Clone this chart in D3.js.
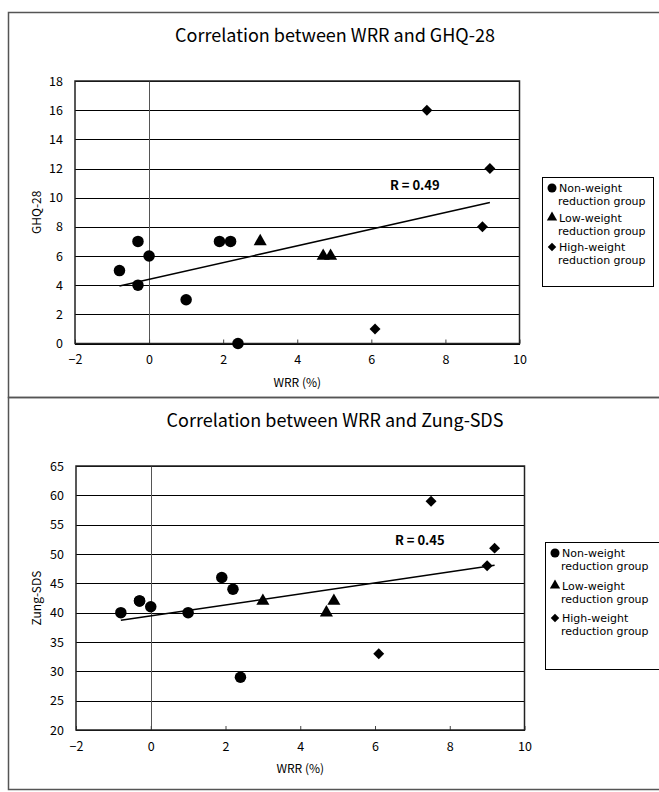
<!DOCTYPE html>
<meta charset="utf-8">
<script src="https://d3js.org/d3.v7.min.js"></script>
<style>
body { margin: 0; background: #fff; }
svg { font-family: "Noto Sans CJK JP", "DejaVu Sans", sans-serif; }
.grid line { stroke: #000; stroke-width: 1; shape-rendering: crispEdges; }
.legend text { font-family: "DejaVu Sans", sans-serif; font-size: 11px; }
</style>
<body>
<script>
// values (WRR in %, scores per subject)
var nonWRR = [-0.8, -0.3, -0.3, 0, 1, 1.9, 2.2, 2.4];
var nonGHQ = [5, 7, 4, 6, 3, 7, 7, 0];
var nonSDS = [40, 42, 42, 41, 40, 46, 44, 29];
var lowWRR = [3, 4.7, 4.9];
var lowGHQ = [7, 6, 6];
var lowSDS = [42, 40, 42];
var highWRR = [6.1, 7.5, 9, 9.2];
var highGHQ = [1, 16, 8, 12];
var highSDS = [33, 59, 48, 51];

var xTicks = [-2, 0, 2, 4, 6, 8, 10];
var ghqTicks = [0, 2, 4, 6, 8, 10, 12, 14, 16, 18];
var sdsTicks = [20, 25, 30, 35, 40, 45, 50, 55, 60, 65];
var groupNames = ["Non-weight", "Low-weight", "High-weight"];
var symbols = ["circle", "triangle", "diamond"];

var W = 659, H = 792;
var svg = d3.select("body").append("svg")
    .attr("width", W)
    .attr("height", H);

function markerPath(kind, big) {
    if (kind == "circle") return d3.symbol(d3.symbolCircle, big ? 104 : 64)();
    if (kind == "triangle") return d3.symbol(d3.symbolTriangle, big ? 74 : 46)();
    return d3.symbol(d3.symbolSquare, big ? 60 : 36)();
}

function drawChart(opt) {
    var g = svg.append("g");
    // outer panel frame
    g.append("rect")
        .attr("x", 8.5).attr("y", opt.top + 0.5)
        .attr("width", 700).attr("height", opt.panelH)
        .attr("fill", "none").attr("stroke", "#555").attr("stroke-width", 1.5);

    g.append("text")
        .attr("x", 335).attr("y", opt.top + 30)
        .attr("text-anchor", "middle")
        .attr("font-size", "18px")
        .text(opt.title);

    var x = d3.scaleLinear().domain([-2, 10]).range([opt.left, opt.right]);
    var y = d3.scaleLinear().domain(d3.extent(opt.yTicks)).range([opt.bottom, opt.plotTop]);

    // horizontal gridlines
    g.append("g").attr("class", "grid")
        .attr("transform", "translate(" + opt.left + ",0)")
        .call(d3.axisLeft(y).tickValues(opt.yTicks).tickSize(-(opt.right - opt.left)).tickFormat(""))
        .select(".domain").remove();

    // y tick labels
    g.append("g")
        .attr("transform", "translate(" + (opt.left - 9) + ",0)")
        .call(d3.axisLeft(y).tickValues(opt.yTicks).tickSize(0))
        .call(function(s) { s.select(".domain").remove(); })
        .selectAll("text")
        .attr("font-size", "12.5px")
        .attr("font-family", "\"Noto Sans CJK JP\", sans-serif")
        .attr("fill", "#000");

    // zero line
    g.append("line")
        .attr("x1", Math.round(x(0)) + 0.5).attr("x2", Math.round(x(0)) + 0.5)
        .attr("y1", opt.plotTop).attr("y2", opt.bottom)
        .attr("stroke", "#555").attr("stroke-width", 1);

    // x axis with inward ticks
    var xa = g.append("g")
        .attr("transform", "translate(0," + opt.bottom + ")")
        .call(d3.axisBottom(x).tickValues(xTicks).tickSizeInner(-4).tickSizeOuter(0).tickPadding(12)
            .tickFormat(function(d) { return d < 0 ? "\u2212" + (-d) : d; }));
    xa.select(".domain").remove();
    xa.selectAll("line").attr("stroke", "#444");
    xa.selectAll("text").attr("font-size", "12.5px")
        .attr("font-family", "\"Noto Sans CJK JP\", sans-serif").attr("fill", "#000");

    // plot frame
    g.append("rect")
        .attr("x", opt.left).attr("y", opt.plotTop)
        .attr("width", opt.right - opt.left).attr("height", opt.bottom - opt.plotTop)
        .attr("fill", "none").attr("stroke", "#222").attr("stroke-width", 1.5);

    // axis titles
    g.append("text")
        .attr("x", (opt.left + opt.right) / 2).attr("y", opt.bottom + 43)
        .attr("text-anchor", "middle").attr("font-size", "12px")
        .text("WRR (%)");
    g.append("text")
        .attr("transform", "translate(41," + ((opt.plotTop + opt.bottom) / 2) + ") rotate(-90)")
        .attr("text-anchor", "middle").attr("font-size", "12px")
        .text(opt.yLabel);

    // trend line (least squares over all subjects)
    var xs = nonWRR.concat(lowWRR, highWRR);
    var ys = opt.ys[0].concat(opt.ys[1], opt.ys[2]);
    var mx = d3.mean(xs), my = d3.mean(ys);
    var sxy = d3.sum(xs, function(v, i) { return (v - mx) * (ys[i] - my); });
    var sxx = d3.sum(xs, function(v) { return (v - mx) * (v - mx); });
    var b = sxy / sxx, a = my - b * mx;
    var x0 = d3.min(xs), x1 = d3.max(xs);
    g.append("line")
        .attr("x1", x(x0)).attr("y1", y(a + b * x0))
        .attr("x2", x(x1)).attr("y2", y(a + b * x1))
        .attr("stroke", "#000").attr("stroke-width", 1.5);

    g.append("text")
        .attr("x", opt.rX).attr("y", opt.rY)
        .attr("font-size", "13px").attr("font-weight", "bold")
        .text(opt.rText);

    // points
    var groupsX = [nonWRR, lowWRR, highWRR];
    groupsX.forEach(function(gx, k) {
        g.selectAll(".pt" + k)
            .data(gx.map(function(v, i) { return [v, opt.ys[k][i]]; }))
            .enter().append("path")
            .attr("class", "pt" + k)
            .attr("d", markerPath(symbols[k], true))
            .attr("transform", function(d) {
                return "translate(" + x(d[0]) + "," + y(d[1]) + ")" + (symbols[k] == "diamond" ? " rotate(45)" : "");
            })
            .attr("fill", "#000");
    });

    // legend
    var lg = g.append("g").attr("class", "legend");
    lg.append("rect")
        .attr("x", opt.legX + 0.5).attr("y", opt.legY + 0.5)
        .attr("width", opt.legW).attr("height", opt.legH)
        .attr("fill", "#fff").attr("stroke", "#000").attr("stroke-width", 1);
    groupNames.forEach(function(name, k) {
        var yy = opt.legY + 15 + k * opt.legStep;
        lg.append("path")
            .attr("d", markerPath(symbols[k], false))
            .attr("transform", "translate(" + (opt.legX + 10) + "," + (yy - 4) + ")" + (symbols[k] == "diamond" ? " rotate(45)" : ""))
            .attr("fill", "#000");
        lg.append("text").attr("x", opt.legX + 17).attr("y", yy)
            .text(name);
        lg.append("text").attr("x", opt.legX + 16).attr("y", yy + 13)
            .text("reduction group");
    });
}

drawChart({
    top: 12, panelH: 385, title: "Correlation between WRR and GHQ-28",
    left: 75, right: 519.5, plotTop: 81, bottom: 343.5,
    yTicks: ghqTicks, yLabel: "GHQ-28",
    ys: [nonGHQ, lowGHQ, highGHQ],
    rText: "R = 0.49", rX: 390, rY: 190,
    legX: 542, legY: 177, legW: 111, legH: 109, legStep: 29.5
});
drawChart({
    top: 397, panelH: 392, title: "Correlation between WRR and Zung-SDS",
    left: 76, right: 524.5, plotTop: 466, bottom: 730,
    yTicks: sdsTicks, yLabel: "Zung-SDS",
    ys: [nonSDS, lowSDS, highSDS],
    rText: "R = 0.45", rX: 395, rY: 545,
    legX: 545, legY: 542, legW: 130, legH: 127, legStep: 32.5
});
</script>
</body>
